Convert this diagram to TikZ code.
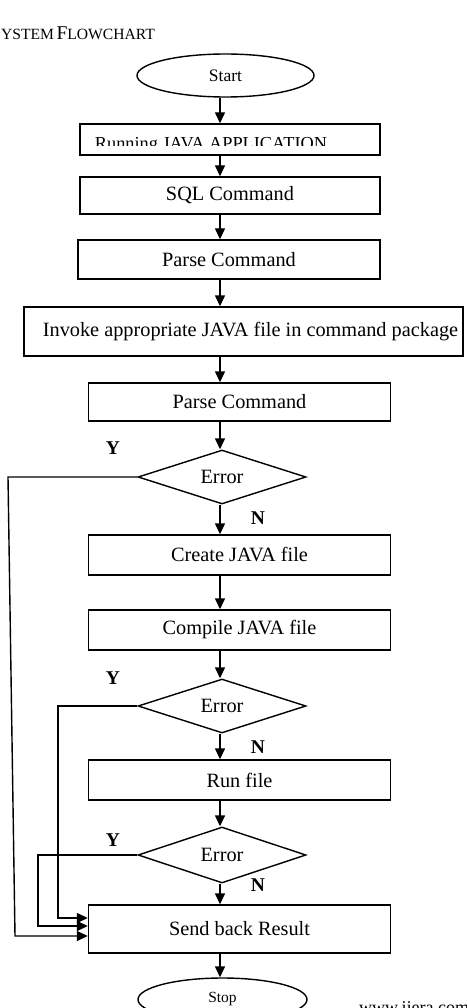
\documentclass[tikz,border=0pt]{standalone}
\usepackage{fontspec}
\setmainfont{Liberation Serif}
\usetikzlibrary{shapes.geometric,arrows.meta}
\tikzset{
  box/.style={draw, line width=1.4pt, rectangle, inner sep=0pt, font=\fontsize{20.3}{23}\selectfont},
  oval/.style={draw, line width=1.4pt, ellipse, inner sep=0pt},
  decide/.style={draw, line width=1.4pt, diamond, inner sep=0pt, aspect=3.1, font=\fontsize{20.3}{22}\selectfont},
  arr/.style={line width=1.4pt, -{Triangle[length=11pt,width=10pt]}},
  yn/.style={font=\fontsize{19.5}{21}\selectfont\bfseries, inner sep=0pt}
}
\begin{document}
\begin{tikzpicture}[x=1pt,y=-1pt]
\useasboundingbox (0,0) rectangle (466,1008);
\clip (0,0) rectangle (466,1008);
% title
\node[anchor=base east, inner sep=0pt] (title) at (155,40)
  {{\fontsize{19.5}{20}\selectfont S}{\fontsize{15.6}{16}\selectfont YSTEM} {\fontsize{19.5}{20}\selectfont F}{\fontsize{15.6}{16}\selectfont LOWCHART}};
% nodes
\node[oval, minimum width=177pt, minimum height=43pt, font=\fontsize{17.5}{18}\selectfont] (start) at (225.5,75.5) {Start};
\node[box, minimum width=300pt, minimum height=31pt] (run) at (230,139.5) {};
\begin{scope}
  \clip (80,124) rectangle (380,146);
  \node[anchor=base, inner sep=0pt, font=\fontsize{18.3}{20}\selectfont] (runtext) at (211,149.5) {Running JAVA APPLICATION};
\end{scope}
\node[box, minimum width=300pt, minimum height=37pt] (sql) at (230,195.5) {SQL Command};
\node[box, minimum width=302pt, minimum height=39pt] (parse1) at (229,259.5) {Parse Command};
\node[box, minimum width=439pt, minimum height=49pt] (invoke) at (243.5,331.5) {\hspace*{14pt}Invoke appropriate JAVA file in command package};
\node[box, minimum width=302pt, minimum height=38pt] (parse2) at (239.5,402) {Parse Command};
\node[decide, minimum width=168pt, minimum height=54pt] (d1) at (222,477) {Error};
\node[box, minimum width=302pt, minimum height=40pt] (create) at (239.5,555) {Create JAVA file};
\node[box, minimum width=302pt, minimum height=40pt] (compile) at (239.5,630) {Compile JAVA file};
\node[decide, minimum width=168pt, minimum height=54pt] (d2) at (222,706) {Error};
\node[box, minimum width=302pt, minimum height=40pt] (runfile) at (239.5,780) {Run file};
\node[decide, minimum width=168pt, minimum height=56pt] (d3) at (222,855) {Error};
\node[box, minimum width=302pt, minimum height=48pt] (send) at (239.5,929) {Send back Result};
\node[oval, minimum width=169pt, minimum height=43pt, font=\fontsize{15.5}{16}\selectfont] (stop) at (222.5,999.5) {Stop};
% labels
\node[yn] (y1) at (113,448) {Y};
\node[yn] (y2) at (113,678) {Y};
\node[yn] (y3) at (113,840) {Y};
\node[yn] (n1) at (258,518) {N};
\node[yn] (n2) at (258,747) {N};
\node[yn] (n3) at (258,885) {N};
\node[anchor=base west, inner sep=0pt, font=\fontsize{18}{20}\selectfont] (web) at (359,1013.5) {www.ijera.com};
% main arrows
\coordinate (ax) at (220,0);
\draw[arr] (start.south -| ax) -- (run.north -| ax);
\draw[arr] (run.south -| ax) -- (sql.north -| ax);
\draw[arr] (sql.south -| ax) -- (parse1.north -| ax);
\draw[arr] (parse1.south -| ax) -- (invoke.north -| ax);
\draw[arr] (invoke.south -| ax) -- (parse2.north -| ax);
\draw[arr] (parse2.south -| ax) -- (d1.north -| ax);
\draw[arr] (d1.south -| ax) -- (create.north -| ax);
\draw[arr] (create.south -| ax) -- (compile.north -| ax);
\draw[arr] (compile.south -| ax) -- (d2.north -| ax);
\draw[arr] (d2.south -| ax) -- (runfile.north -| ax);
\draw[arr] (runfile.south -| ax) -- (d3.north -| ax);
\draw[arr] (d3.south -| ax) -- (send.north -| ax);
\draw[arr] (send.south -| ax) -- (stop.north -| ax);
% Y loops
\coordinate (l1a) at (8,477);
\coordinate (l1b) at (15,936);
\coordinate (l2a) at (58,706);
\coordinate (l2b) at (58,918);
\coordinate (l3a) at (38,855);
\coordinate (l3b) at (38,926);
\draw[arr] (d1.west) -- (l1a) -- (l1b) -- (l1b -| send.west);
\draw[arr] (d2.west) -- (l2a) -- (l2b) -- (l2b -| send.west);
\draw[arr] (d3.west) -- (l3a) -- (l3b) -- (l3b -| send.west);
\end{tikzpicture}
\end{document}
